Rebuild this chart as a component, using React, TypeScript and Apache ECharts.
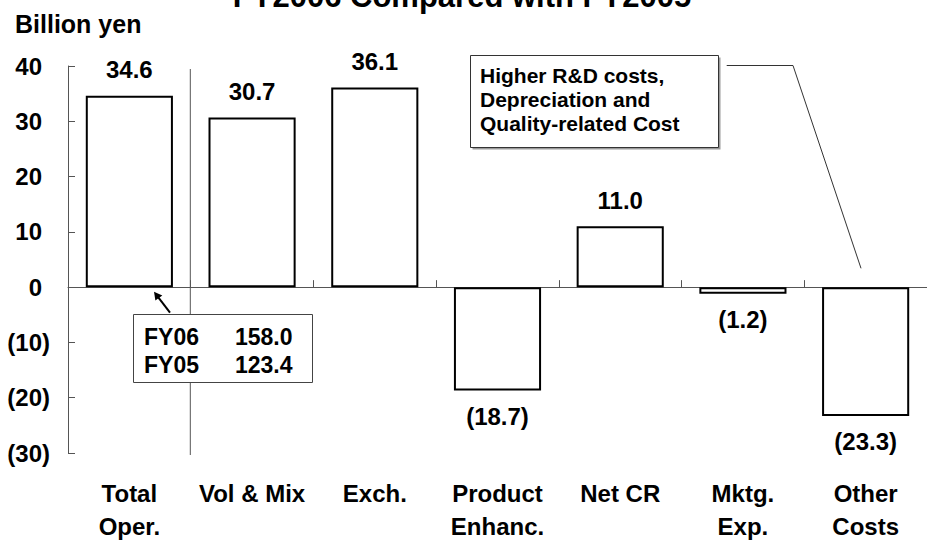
import React, { useEffect, useRef } from "react";
import * as echarts from "echarts";

// Operating income change components, billion yen
const categories = [
  "Total\nOper.",
  "Vol & Mix",
  "Exch.",
  "Product\nEnhanc.",
  "Net CR",
  "Mktg.\nExp.",
  "Other\nCosts",
];
const values = [34.6, 30.7, 36.1, -18.7, 11.0, -1.2, -23.3];

// Value axis range
const yMin = -30;
const yMax = 40;
const yStep = 10;

// Operating income totals shown in the side box
const fyRows = [
  { label: "FY06", value: "158.0" },
  { label: "FY05", value: "123.4" },
];
const noteLines = ["Higher R&D costs,", "Depreciation and", "Quality-related Cost"];

const FONT = '"Liberation Sans", Arial, Helvetica, sans-serif';

const fmtValue = (v: number) =>
  v < 0 ? `(${Math.abs(v).toFixed(1)})` : v.toFixed(1);

export default function App() {
  const ref = useRef<HTMLDivElement>(null);

  useEffect(() => {
    if (!ref.current) return;
    const chart = echarts.init(ref.current, undefined, { renderer: "svg" });

    const graphic: any[] = [
      // main heading, clipped by the top edge
      {
        type: "text",
        x: 462,
        y: -3.7,
        z: 100,
        style: {
          text: "FY2006 Compared with FY2005",
          font: `bold 31px ${FONT}`,
          fill: "#000",
          textAlign: "center",
          textVerticalAlign: "middle",
        },
      },
      {
        type: "text",
        x: 15,
        y: 24,
        z: 100,
        style: {
          text: "Billion yen",
          font: `bold 25px ${FONT}`,
          fill: "#000",
          textAlign: "left",
          textVerticalAlign: "middle",
        },
      },
      // separator line behind the total box
      {
        type: "line",
        z: 100,
        shape: { x1: 190.3, y1: 69, x2: 190.3, y2: 455 },
        style: { stroke: "#555", lineWidth: 1 },
      },
      // FY totals box
      {
        type: "rect",
        z: 101,
        shape: { x: 133.5, y: 314.5, width: 179, height: 68 },
        style: { fill: "#fff", stroke: "#444", lineWidth: 1 },
      },
      ...fyRows.flatMap((r, i) => [
        {
          type: "text",
          z: 102,
          x: 144,
          y: 337 + i * 28.3,
          style: {
            text: r.label,
            font: `bold 23px ${FONT}`,
            fill: "#000",
            textAlign: "left",
            textVerticalAlign: "middle",
          },
        },
        {
          type: "text",
          z: 102,
          x: 235,
          y: 337 + i * 28.3,
          style: {
            text: r.value,
            font: `bold 23px ${FONT}`,
            fill: "#000",
            textAlign: "left",
            textVerticalAlign: "middle",
          },
        },
      ]),
      // arrow pointing at the first bar
      {
        type: "line",
        z: 102,
        shape: { x1: 170, y1: 312.7, x2: 158.5, y2: 297.6 },
        style: { stroke: "#000", lineWidth: 2 },
      },
      {
        type: "polygon",
        z: 102,
        shape: {
          points: [
            [154, 291.7],
            [162.3, 295.4],
            [155.4, 300.6],
          ],
        },
        style: { fill: "#000" },
      },
      // note box for other costs
      {
        type: "rect",
        z: 100,
        shape: { x: 472.5, y: 57.5, width: 248, height: 92 },
        style: { fill: "#9a9a9a" },
      },
      {
        type: "rect",
        z: 101,
        shape: { x: 470.5, y: 55.5, width: 248, height: 92 },
        style: { fill: "#fff", stroke: "#333", lineWidth: 1 },
      },
      ...noteLines.map((t, i) => ({
        type: "text",
        z: 102,
        x: 480,
        y: 75 + i * 24.3,
        style: {
          text: t,
          font: `bold 21px ${FONT}`,
          fill: "#000",
          textAlign: "left",
          textVerticalAlign: "middle",
        },
      })),
      {
        type: "polyline",
        z: 100,
        shape: {
          points: [
            [726.7, 65.5],
            [793, 65.5],
            [861, 268.3],
          ],
        },
        style: { stroke: "#333", lineWidth: 1, fill: "none" },
      },
    ];

    chart.setOption({
      animation: false,
      backgroundColor: "#fff",
      grid: {
        left: 68,
        right: 0,
        top: 66,
        bottom: 90,
        containLabel: false,
        outerBoundsMode: "none",
      },
      xAxis: {
        type: "category",
        data: categories,
        axisLine: { onZero: true, lineStyle: { color: "#555", width: 1 } },
        axisTick: { show: true, inside: true, length: 7, lineStyle: { color: "#555" } },
        axisLabel: {
          margin: 24,
          interval: 0,
          color: "#000",
          fontFamily: FONT,
          fontWeight: "bold",
          fontSize: 24,
          lineHeight: 33,
        },
        splitLine: { show: false },
      },
      yAxis: {
        type: "value",
        min: yMin,
        max: yMax,
        interval: yStep,
        axisLine: { show: true, lineStyle: { color: "#555", width: 1 } },
        axisTick: { show: true, inside: true, length: 7, lineStyle: { color: "#555" } },
        splitLine: { show: false },
        axisLabel: {
          margin: 18,
          color: "#000",
          fontFamily: FONT,
          fontWeight: "bold",
          fontSize: 24,
          formatter: (v: number) => (v < 0 ? `{n|(${-v})}` : `{p|${v}}`),
          rich: {
            n: { fontFamily: FONT, fontWeight: "bold", fontSize: 24, color: "#000" },
            p: {
              fontFamily: FONT,
              fontWeight: "bold",
              fontSize: 24,
              color: "#000",
              padding: [0, 8, 0, 0],
            },
          },
        },
      },
      series: [
        {
          type: "bar",
          barWidth: "71%",
          data: values.map((v) => ({
            value: v,
            label: { position: v < 0 ? "bottom" : "top" },
          })),
          itemStyle: { color: "#fff", borderColor: "#000", borderWidth: 2 },
          label: {
            show: true,
            distance: 14,
            color: "#000",
            fontFamily: FONT,
            fontWeight: "bold",
            fontSize: 24,
            lineHeight: 24,
            formatter: (p: any) => fmtValue(p.value),
          },
        },
      ],
      graphic,
    });

    return () => chart.dispose();
  }, []);

  return (
    <div
      ref={ref}
      style={{ position: "fixed", left: 0, top: 0, width: 927, height: 543 }}
    />
  );
}
